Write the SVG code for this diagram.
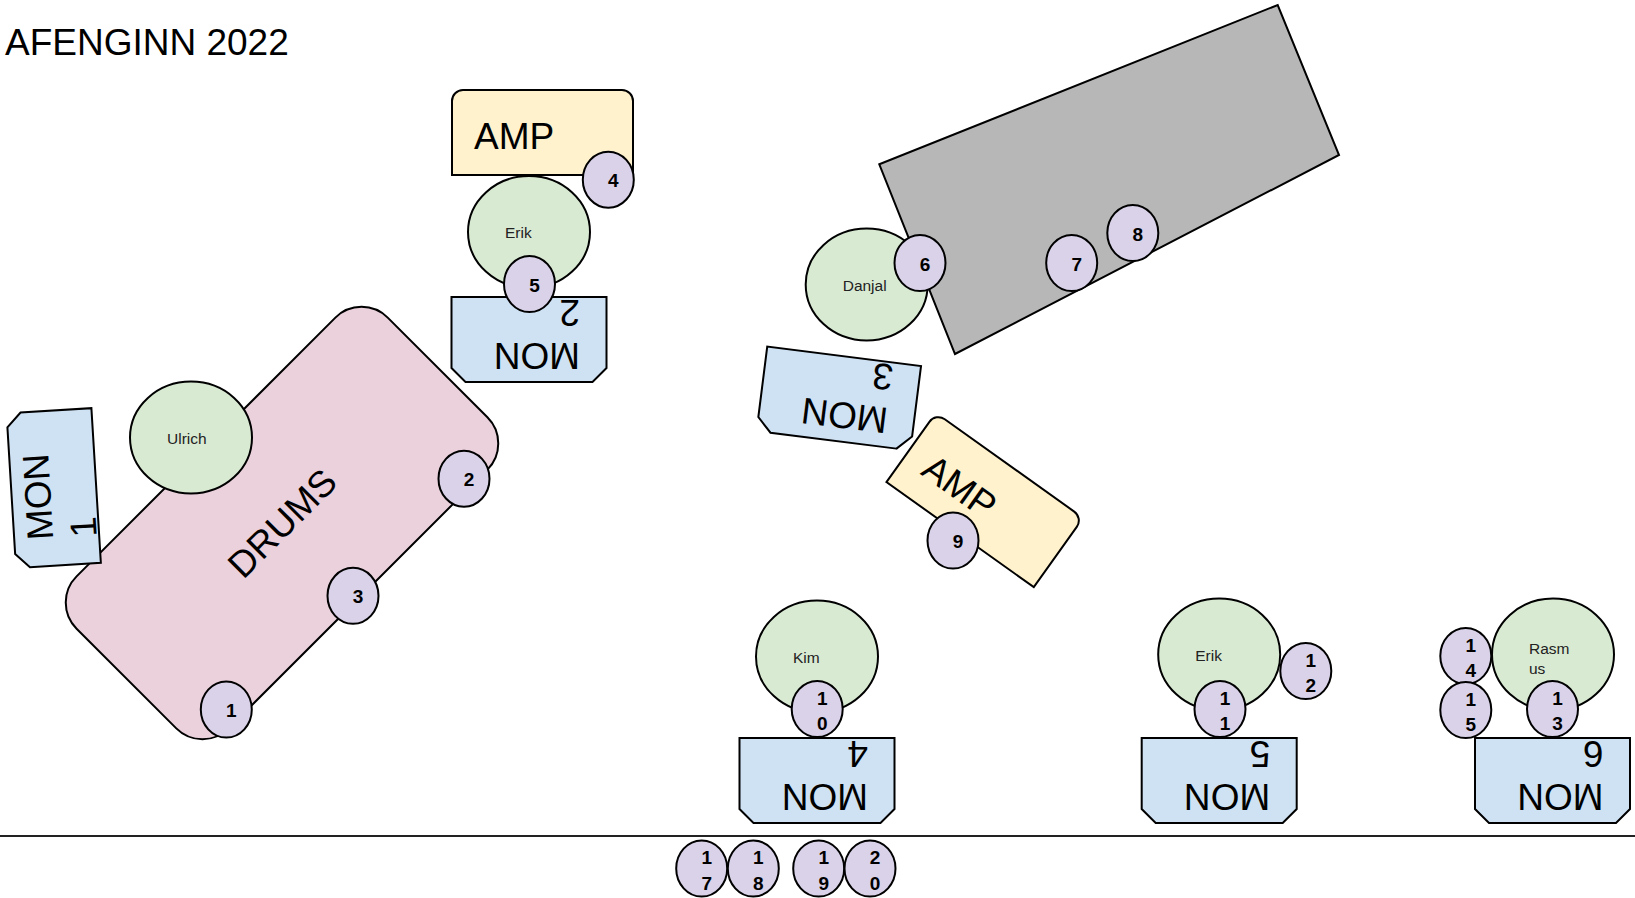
<svg xmlns="http://www.w3.org/2000/svg" xmlns:xlink="http://www.w3.org/1999/xlink" width="1635" height="898" viewBox="0 0 1635 898">
<style>
  .s { stroke:#000; stroke-width:2; }
  .person { fill:#d9ead3; stroke:#000; stroke-width:2; }
  .num { fill:#d9d2e9; stroke:#000; stroke-width:2; }
  .mon { fill:#cfe2f3; stroke:#000; stroke-width:2; stroke-linejoin:miter; }
  .amp { fill:#fff2cc; stroke:#000; stroke-width:2; }
  .drums { fill:#ead1dc; stroke:#000; stroke-width:2; }
  .gray { fill:#b7b7b7; stroke:#000; stroke-width:2; }
  .big { font-family:"Liberation Sans", Arial, sans-serif; font-size:37px; fill:#000; }
  .name { font-family:"Liberation Sans", Arial, sans-serif; font-size:15.5px; fill:#222; }
  .nt { font-family:"Liberation Sans", Arial, sans-serif; font-size:19px; font-weight:bold; fill:#000; text-anchor:middle; }
</style>
<defs>
  <polygon id="monShape" class="mon" points="-63.5,-42.5 63.5,-42.5 77.5,-28.5 77.5,42.5 -77.5,42.5 -77.5,-28.5"/>
  <path id="ampShape" class="amp" d="M-90.5,42.5 V-31.5 A11,11 0 0 1 -79.5,-42.5 H79.5 A11,11 0 0 1 90.5,-31.5 V42.5 Z"/>
  <ellipse id="numShape" class="num" rx="25.5" ry="28"/>
  <ellipse id="personShape" class="person" rx="61" ry="56"/>
</defs>
<rect width="1635" height="898" fill="#fff"/>

<g id="title"><text class="big" x="5" y="55">AFENGINN 2022</text></g>

<!-- Gray riser -->
<g id="riser"><polygon class="gray" points="879.3,164.3 1277.7,5 1339,155 955,354"/></g>

<g id="danjal"><use xlink:href="#personShape" x="866.7" y="284.5"/><text class="name" x="842.7" y="290.5">Danjal</text></g>
<g id="ch6"><use xlink:href="#numShape" x="920" y="263"/><text class="nt" x="925" y="270.5">6</text></g>
<g id="ch7"><use xlink:href="#numShape" x="1071.7" y="263"/><text class="nt" x="1076.7" y="270.5">7</text></g>
<g id="ch8"><use xlink:href="#numShape" x="1132.8" y="233"/><text class="nt" x="1137.8" y="240.5">8</text></g>

<!-- Drums -->
<g id="drums" transform="translate(282,523) rotate(-45)">
  <rect class="drums" x="-220" y="-107.5" width="440" height="215" rx="37" ry="37"/>
  <text class="big" x="0" y="13" text-anchor="middle">DRUMS</text>
</g>
<g id="ulrich"><use xlink:href="#personShape" x="191" y="437.5"/><text class="name" x="167" y="443.5">Ulrich</text></g>
<g id="mon1" transform="translate(53.7,488.1) rotate(-93.5)">
  <use xlink:href="#monShape"/>
  <text class="big" x="-51" y="-3.5">MON</text><text class="big" x="-51" y="40">1</text>
</g>
<g id="ch1"><use xlink:href="#numShape" x="226.3" y="709.5"/><text class="nt" x="231.3" y="717">1</text></g>
<g id="ch2"><use xlink:href="#numShape" x="464" y="478.7"/><text class="nt" x="469" y="486.2">2</text></g>
<g id="ch3"><use xlink:href="#numShape" x="353" y="595.8"/><text class="nt" x="358" y="603.3">3</text></g>

<!-- Top AMP / Erik / MON 2 -->
<g id="amp1" transform="translate(542.5,132.5)">
  <use xlink:href="#ampShape"/>
  <text class="big" x="-68.5" y="16.5">AMP</text>
</g>
<g id="ch4"><use xlink:href="#numShape" x="608.3" y="179.7"/><text class="nt" x="613.3" y="187.2">4</text></g>
<g id="erik1"><use xlink:href="#personShape" x="529" y="232"/><text class="name" x="505" y="238">Erik</text></g>
<g id="mon2" transform="translate(529,339.5) rotate(180)">
  <use xlink:href="#monShape"/>
  <text class="big" x="-51" y="-3.5">MON</text><text class="big" x="-51" y="40">2</text>
</g>
<g id="ch5"><use xlink:href="#numShape" x="529.5" y="284"/><text class="nt" x="534.5" y="291.5">5</text></g>

<!-- MON 3 / AMP 2 -->
<g id="mon3" transform="translate(838.8,398.5) rotate(187.2)">
  <use xlink:href="#monShape"/>
  <text class="big" x="-51" y="-3.5">MON</text><text class="big" x="-51" y="40">3</text>
</g>
<g id="amp2" transform="translate(984.8,500) rotate(35.5)">
  <use xlink:href="#ampShape"/>
  <text class="big" x="-68.5" y="16.5">AMP</text>
</g>
<g id="ch9"><use xlink:href="#numShape" x="953" y="540.5"/><text class="nt" x="958" y="548">9</text></g>

<!-- Kim -->
<g id="kim"><use xlink:href="#personShape" x="817" y="656.5"/><text class="name" x="793" y="662.5">Kim</text></g>
<g id="mon4" transform="translate(817,780.5) rotate(180)">
  <use xlink:href="#monShape"/>
  <text class="big" x="-51" y="-3.5">MON</text><text class="big" x="-51" y="40">4</text>
</g>
<g id="ch10"><use xlink:href="#numShape" x="817.2" y="709"/><text class="nt" x="822.2" y="704.5">1</text><text class="nt" x="822.2" y="730">0</text></g>

<!-- Erik bottom -->
<g id="erik2"><use xlink:href="#personShape" x="1219.2" y="654.5"/><text class="name" x="1195.2" y="660.5">Erik</text></g>
<g id="mon5" transform="translate(1219.2,780.5) rotate(180)">
  <use xlink:href="#monShape"/>
  <text class="big" x="-51" y="-3.5">MON</text><text class="big" x="-51" y="40">5</text>
</g>
<g id="ch11"><use xlink:href="#numShape" x="1220" y="709"/><text class="nt" x="1225" y="704.5">1</text><text class="nt" x="1225" y="730">1</text></g>
<g id="ch12"><use xlink:href="#numShape" x="1305.8" y="671"/><text class="nt" x="1310.8" y="666.5">1</text><text class="nt" x="1310.8" y="692">2</text></g>

<!-- Rasmus -->
<g id="rasmus"><use xlink:href="#personShape" x="1553" y="654.5"/><text class="name" x="1529" y="653.5">Rasm</text><text class="name" x="1529" y="673.5">us</text></g>
<g id="mon6" transform="translate(1552.5,780.5) rotate(180)">
  <use xlink:href="#monShape"/>
  <text class="big" x="-51" y="-3.5">MON</text><text class="big" x="-51" y="40">6</text>
</g>
<g id="ch13"><use xlink:href="#numShape" x="1552.5" y="709"/><text class="nt" x="1557.5" y="704.5">1</text><text class="nt" x="1557.5" y="730">3</text></g>
<g id="ch14"><use xlink:href="#numShape" x="1465.8" y="656"/><text class="nt" x="1470.8" y="651.5">1</text><text class="nt" x="1470.8" y="677">4</text></g>
<g id="ch15"><use xlink:href="#numShape" x="1465.8" y="710"/><text class="nt" x="1470.8" y="705.5">1</text><text class="nt" x="1470.8" y="731">5</text></g>

<!-- Stage edge -->
<g id="connectors"><line x1="0" y1="836" x2="1635" y2="836" stroke="#222" stroke-width="2"/></g>

<g id="ch17"><use xlink:href="#numShape" x="701.7" y="868.5"/><text class="nt" x="706.7" y="864">1</text><text class="nt" x="706.7" y="889.5">7</text></g>
<g id="ch18"><use xlink:href="#numShape" x="753.3" y="868.5"/><text class="nt" x="758.3" y="864">1</text><text class="nt" x="758.3" y="889.5">8</text></g>
<g id="ch19"><use xlink:href="#numShape" x="818.7" y="868.5"/><text class="nt" x="823.7" y="864">1</text><text class="nt" x="823.7" y="889.5">9</text></g>
<g id="ch20"><use xlink:href="#numShape" x="870" y="868.5"/><text class="nt" x="875" y="864">2</text><text class="nt" x="875" y="889.5">0</text></g>
</svg>
